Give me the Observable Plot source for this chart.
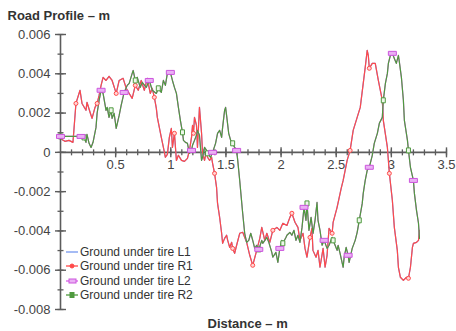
<!DOCTYPE html>
<html><head><meta charset="utf-8">
<script src="https://cdn.jsdelivr.net/npm/d3@7"></script>
<script src="https://cdn.jsdelivr.net/npm/@observablehq/plot@0.6"></script>
<style>
body{margin:0;background:#fff;}
#wrap{position:relative;width:456px;height:331px;font-family:"Liberation Sans",Arial,sans-serif;}
#legend{position:absolute;left:65px;top:245px;font-size:12px;color:#333;}
.row{height:14.3px;display:flex;align-items:center;white-space:nowrap;}
.row svg{margin-right:1px;}
</style></head><body><div id="wrap"></div>
<script>
// ---- data ----
const r1X = [0,0.013,0.04,0.077,0.113,0.14,0.177,0.195,0.231,0.24,
0.268,0.286,0.313,0.332,0.35,0.368,0.386,0.413,0.44,0.468,
0.505,0.532,0.568,0.596,0.623,0.65,0.678,0.705,0.732,0.76,
0.787,0.814,0.832,0.851,0.869,0.878,0.896,0.914,0.933,0.951,
0.969,0.987,1.005,1.015,1.033,1.051,1.069,1.097,1.124,1.151,
1.169,1.188,1.197,1.206,1.215,1.233,1.242,1.26,1.279,1.288,
1.306,1.324,1.333,1.352,1.37,1.379,1.397,1.415,1.424,1.443,
1.461,1.47,1.488,1.506,1.516,1.534,1.552,1.561,1.579,1.597,
1.625,1.652,1.688,1.716,1.743,1.779,1.807,1.825,1.852,1.871,
1.898,1.925,1.962,1.989,2.016,2.053,2.08,2.098,2.126,2.153,
2.171,2.199,2.217,2.235,2.262,2.28,2.289,2.317,2.335,2.353,
2.381,2.399,2.417,2.435,2.463,2.472,2.508,2.545,2.563,2.599,
2.626,2.654,2.69,2.718,2.745,2.763,2.781,2.791,2.8,2.827,
2.854,2.882,2.918,2.927,2.964,2.982,3.009,3.027,3.054,3.064,
3.082,3.109,3.137,3.155,3.173,3.191,3.2,3.228,3.246,3.255];
const r1Y = [0.00076,0.00066,0.00056,0.00061,0.00051,0.00249,0.00316,0.00249,0.00214,0.00255,
0.00204,0.00173,0.00229,0.00249,0.0029,0.00341,0.00382,0.00366,0.00387,0.00366,
0.003,0.00366,0.00377,0.00326,0.003,0.00275,0.00341,0.00316,0.00366,0.00316,
0.00377,0.003,0.00326,0.0028,0.00224,0.00178,0.00127,0.00076,0.00025,-0.00025,
-0.0001,0.00076,0.00122,0.00025,0.00097,-0.00041,-0.00015,-0.00041,-0.00046,-0.00031,
0.0001,0.00076,0.00137,0.00097,0.00178,0.00137,0.00025,0.00229,0.00097,-0.00005,
-0.00041,0.0001,-0.00025,-0.00041,-0.00025,-0.00056,-0.00107,-0.00178,-0.0026,-0.00331,
-0.00412,-0.00463,-0.00438,-0.00422,-0.00448,-0.00484,-0.00458,-0.00489,-0.00514,-0.00473,
-0.00412,-0.00407,-0.00458,-0.00524,-0.00575,-0.00499,-0.00438,-0.00382,-0.00448,-0.00412,
-0.00458,-0.00397,-0.00382,-0.00397,-0.00361,-0.00372,-0.00331,-0.0031,-0.00356,-0.00382,
-0.00448,-0.00412,-0.00489,-0.00534,-0.00433,-0.00387,-0.00499,-0.00534,-0.00499,-0.00585,
-0.00489,-0.00585,-0.00524,-0.00387,-0.00412,-0.00356,-0.0028,-0.00183,-0.00143,-0.00041,
0.0001,0.00112,0.00178,0.00229,0.00351,0.00433,0.00519,0.00494,0.00428,0.00453,
0.00453,0.00366,0.00265,0.00163,0.00025,-0.00107,-0.00244,-0.00382,-0.00499,-0.00585,
-0.00636,-0.00652,-0.00636,-0.00641,-0.00585,-0.00484,-0.00463,-0.00458,-0.00448,-0.00397];

const r2X = [0,0.02,0.077,0.13,0.186,0.213,0.231,0.24,0.259,0.277,
0.295,0.322,0.332,0.35,0.368,0.386,0.413,0.423,0.44,0.459,
0.468,0.486,0.505,0.532,0.55,0.577,0.605,0.623,0.65,0.659,
0.678,0.696,0.723,0.741,0.778,0.805,0.832,0.869,0.887,0.914,
0.933,0.951,0.969,0.996,1.015,1.033,1.051,1.069,1.087,1.106,
1.115,1.133,1.151,1.169,1.188,1.197,1.215,1.233,1.242,1.26,
1.279,1.288,1.306,1.324,1.333,1.361,1.379,1.406,1.424,1.443,
1.461,1.47,1.488,1.497,1.506,1.525,1.543,1.561,1.579,1.597,
1.607,1.625,1.652,1.67,1.688,1.707,1.725,1.743,1.761,1.779,
1.798,1.825,1.834,1.871,1.889,1.916,1.925,1.953,1.971,1.989,
2.007,2.016,2.044,2.053,2.08,2.098,2.117,2.135,2.153,2.171,
2.19,2.208,2.226,2.235,2.253,2.272,2.29,2.308,2.326,2.335,
2.353,2.372,2.39,2.417,2.435,2.463,2.472,2.49,2.508,2.517,
2.535,2.563,2.572,2.59,2.608,2.617,2.645,2.672,2.69,2.709,
2.736,2.745,2.763,2.781,2.8,2.827,2.845,2.873,2.891,2.918,
2.927,2.946,2.964,2.973,2.991,3.009,3.027,3.045,3.064,3.073,
3.091,3.109,3.118,3.146,3.155,3.173,3.2,3.209,3.228,3.246,
3.255];
const r2Y = [0.00081,0.00081,0.00081,0.00081,0.00081,0.00076,0.00051,0.00092,0.00046,0.00025,
0.00051,0.00127,0.00199,0.00265,0.00316,0.003,0.00214,0.00229,0.00178,0.00214,
0.00173,0.00199,0.00122,0.00188,0.00239,0.00305,0.00341,0.00351,0.00402,0.00417,
0.00366,0.00382,0.00331,0.00356,0.00331,0.00366,0.00316,0.003,0.00326,0.00305,
0.00366,0.00341,0.00402,0.00407,0.00366,0.00331,0.003,0.00229,0.00163,0.00102,
0.00061,0.00051,0.00046,-0.00005,0.0001,0.00036,0.00061,0.00087,0.00112,0.00087,
-0.00041,-0.00025,0.00025,0.0001,-0.00005,-0.00025,0,0.00046,0.00097,0.00112,
0.00076,0.00127,0.00214,0.00229,0.00188,0.00097,0.00061,0.00046,0.00025,0.0001,
-0.00041,-0.00143,-0.0031,-0.00412,-0.00458,-0.00448,-0.00412,-0.00448,-0.00489,-0.00473,
-0.00494,-0.00448,-0.00463,-0.00433,-0.00458,-0.00509,-0.00534,-0.00509,-0.0056,-0.00489,
-0.00448,-0.00463,-0.00433,-0.00422,-0.00407,-0.00422,-0.00397,-0.00448,-0.00422,-0.00458,
-0.00382,-0.0028,-0.00346,-0.0026,-0.00397,-0.00331,-0.00412,-0.00346,-0.00255,-0.00346,
-0.00397,-0.00473,-0.00448,-0.00489,-0.00473,-0.00433,-0.00448,-0.00473,-0.00499,-0.00473,
-0.00514,-0.00585,-0.00534,-0.00484,-0.00524,-0.0056,-0.00489,-0.00448,-0.00407,-0.00346,
-0.0026,-0.00209,-0.00143,-0.00092,-0.00076,-0.00015,0.00046,0.00097,0.00148,0.00178,
0.00265,0.00351,0.00402,0.00453,0.00494,0.00504,0.00478,0.00453,0.00494,0.00458,
0.00382,0.00265,0.00163,0.00061,0.0001,-0.00076,-0.00143,-0.00209,-0.00295,-0.00361,
-0.00438];

const seriesNames = ["Ground under tire L1","Ground under tire R1","Ground under tire L2","Ground under tire R2"];
const seriesColors = ["#7497ee","#ff4a4a","#d95ee8","#4f9a3f"];
const l2MarkerX = [0,0.18,0.37,0.58,0.8,0.99,1.19,1.39,1.6,1.8,1.99,2.21,2.4,2.61,2.8,3.01,3.2];
const r1MarkerX = [0.15,0.33,0.5,0.68,0.86,1.03,1.21,1.39,1.56,1.74,1.92,2.09,2.27,2.45,2.62,2.8,2.98,3.15];
const r2MarkerX = [0,0.21,0.46,0.67,0.88,1.11,1.33,1.56,1.79,2.02,2.24,2.47,2.7,2.93,3.16];
const xMajorTicks = [0.5,1,1.5,2,2.5,3,3.5];
const xTickLabels = ["0.5","1","1.5","2","2.5","3","3.5"];
const yMajorTicks = [0.006,0.004,0.002,0,-0.002,-0.004,-0.006,-0.008];
const yTickLabels = ["0.006","0.004","0.002","0","-0.002","-0.004","-0.006","-0.008"];
const yTitle = "Road Profile \u2013 m";
const xTitle = "Distance \u2013 m";

// ---- build ----
const zipXY = (xs, ys) => xs.slice(0, Math.min(xs.length, ys.length)).map((x, i) => ({x, y: ys[i]}));
const r1 = zipXY(r1X, r1Y), r2 = zipXY(r2X, r2Y);
const pick = (pts, xs) => xs.map(m => d3.least(pts, p => Math.abs(p.x - m)));
const r1Markers = pick(r1, r1MarkerX), l2Markers = pick(r2, l2MarkerX), r2Markers = pick(r2, r2MarkerX);

const axisColor = "#5c5c5c";
const vTick = h => ({draw(ctx){ctx.moveTo(0,-h);ctx.lineTo(0,h);}});
const hTick = w => ({draw(ctx){ctx.moveTo(-w,0);ctx.lineTo(w,0);}});
const rectSym = (w,h) => ({draw(ctx){ctx.rect(-w/2,-h/2,w,h);}});
const xMinor = d3.range(1, 36).map(i => i / 10);
const yMinor = d3.range(-8, 7).map(i => i / 1000);

const plot = Plot.plot({
  width: 456, height: 331,
  marginLeft: 60, marginRight: 10, marginTop: 34, marginBottom: 22,
  x: {domain: [0, 3.5], axis: null},
  y: {domain: [-0.008, 0.006], axis: null},
  style: {fontFamily: "'Liberation Sans', Arial, sans-serif", background: "white", overflow: "visible"},
  marks: [
    Plot.ruleY([0], {x1: 0, x2: 3.5, stroke: axisColor, strokeWidth: 1.6}),
    Plot.ruleX([0], {y1: -0.008, y2: 0.006, stroke: axisColor, strokeWidth: 1.6}),
    Plot.dot(xMinor, {x: d => d, y: 0, symbol: vTick(3), stroke: axisColor, fill: "none", strokeWidth: 1.3}),
    Plot.dot(xMajorTicks, {x: d => d, y: 0, symbol: vTick(5), stroke: axisColor, fill: "none", strokeWidth: 1.4}),
    Plot.dot(yMinor, {x: 0, y: d => d, symbol: hTick(3), stroke: axisColor, fill: "none", strokeWidth: 1.3}),
    Plot.dot(yMajorTicks, {x: 0, y: d => d, symbol: hTick(5.5), stroke: axisColor, fill: "none", strokeWidth: 1.4}),
    Plot.text(xMajorTicks, {x: d => d, y: 0, text: (d, i) => xTickLabels[i], dy: 12, fontSize: 13, fill: "#444"}),
    Plot.text(yMajorTicks, {x: 0, y: d => d, text: (d, i) => yTickLabels[i], dx: -10, textAnchor: "end", fontSize: 13, fill: "#444"}),
    Plot.line(r1, {x: "x", y: "y", stroke: seriesColors[0], strokeWidth: 1.2}),
    Plot.line(r1, {x: "x", y: "y", stroke: seriesColors[1], strokeWidth: 1.2}),
    Plot.line(r2, {x: "x", y: "y", stroke: seriesColors[2], strokeWidth: 1.2}),
    Plot.line(r2, {x: "x", y: "y", stroke: seriesColors[3], strokeWidth: 1.2}),
    Plot.dot(r1Markers, {x: "x", y: "y", r: 2, stroke: seriesColors[1], fill: "#ffd6d6", strokeWidth: 1}),
    Plot.dot(r2Markers, {x: "x", y: "y", symbol: rectSym(4, 5), stroke: seriesColors[3], fill: "#eef7ea", strokeWidth: 1}),
    Plot.dot(l2Markers, {x: "x", y: "y", symbol: rectSym(8, 4), stroke: "#cc55dd", fill: "#eab0f4", strokeWidth: 1}),
    Plot.text([yTitle], {frameAnchor: "top-left", text: d => d, dx: -53, dy: -18.5, textAnchor: "start", lineAnchor: "middle", fontSize: 13, fontWeight: "bold", fill: "#333"}),
    Plot.text([xTitle], {frameAnchor: "bottom-left", text: d => d, dx: 147, dy: 14.8, textAnchor: "start", lineAnchor: "middle", fontSize: 13, fontWeight: "bold", fill: "#333"})
  ]
});
const wrap = document.getElementById("wrap");
wrap.appendChild(plot);

// legend
const legend = document.createElement("div");
legend.id = "legend";
seriesNames.forEach((name, i) => {
  const row = document.createElement("div");
  row.className = "row";
  const c = seriesColors[i];
  let marker = "";
  if (i === 1) marker = `<circle cx="7" cy="7" r="2" fill="${c}" stroke="${c}"/>`;
  if (i === 2) marker = `<rect x="4" y="5" width="7" height="4" fill="#eab0f4" stroke="#cc55dd"/>`;
  if (i === 3) marker = `<rect x="5" y="4.5" width="4" height="5" fill="${c}" stroke="${c}"/>`;
  row.innerHTML = `<svg width="14" height="14"><line x1="1" y1="7" x2="13" y2="7" stroke="${c}" stroke-width="1.3"/>${marker}</svg><span>${name}</span>`;
  legend.appendChild(row);
});
wrap.appendChild(legend);
</script></body></html>
